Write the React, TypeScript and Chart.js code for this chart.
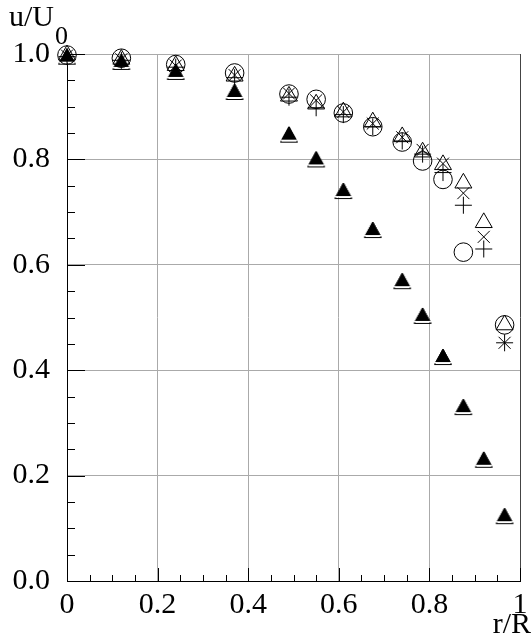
import React, { useEffect, useRef } from "react";
import { Chart, registerables } from "chart.js";

Chart.register(...registerables);

// radial positions r/R
const rPositions = [0, 0.12, 0.24, 0.37, 0.49, 0.55, 0.61, 0.675, 0.74, 0.785, 0.83, 0.875, 0.92, 0.966];

// u/U0 series
const circleSeries = [0.998, 0.992, 0.98, 0.964, 0.924, 0.914, 0.888, 0.862, 0.833, 0.797, 0.762, 0.624, null, 0.486];
const triangleSeries = [0.998, 0.99, 0.978, 0.958, 0.92, 0.905, 0.89, 0.871, 0.843, 0.814, 0.79, 0.755, 0.68, 0.486];
const crossRotSeries = [0.997, 0.99, 0.978, 0.96, 0.925, 0.912, 0.89, 0.868, 0.842, 0.818, 0.792, 0.736, 0.653, 0.452];
const crossSeries = [0.995, 0.988, 0.975, 0.955, 0.918, 0.898, 0.885, 0.862, 0.835, 0.81, 0.775, 0.713, 0.63, 0.452];
const filledTriangleSeries = [0.995, 0.985, 0.966, 0.928, 0.847, 0.8, 0.74, 0.666, 0.569, 0.503, 0.425, 0.33, 0.23, 0.123];

const xTickLabels = ["0", "0.2", "0.4", "0.6", "0.8", "1"];
const yTickLabels = ["0.0", "0.2", "0.4", "0.6", "0.8", "1.0"];
const xTitle = "r/R";
const yTitleMain = "u/U";
const yTitleSub = "0";

const FONT = '"Liberation Serif", "Times New Roman", serif';

function toPoints(ys: (number | null)[]) {
  return rPositions.map((x, i) => ({ x, y: ys[i] }));
}

function makeFilledTriangle(): HTMLCanvasElement {
  const c = document.createElement("canvas");
  c.width = 22;
  c.height = 22;
  const ctx = c.getContext("2d")!;
  ctx.strokeStyle = "#000";
  ctx.lineWidth = 1;
  ctx.beginPath();
  ctx.moveTo(11, 3);
  ctx.lineTo(19.5, 18.5);
  ctx.lineTo(2.5, 18.5);
  ctx.closePath();
  ctx.stroke();
  ctx.fillStyle = "#000";
  ctx.beginPath();
  ctx.moveTo(11, 3);
  ctx.lineTo(18.1, 16);
  ctx.lineTo(3.9, 16);
  ctx.closePath();
  ctx.fill();
  ctx.stroke();
  ctx.fillStyle = "#fff";
  ctx.fillRect(3, 16, 16, 1.2);
  return c;
}

const minorTicksPlugin = {
  id: "minorTicks",
  beforeDatasetsDraw(chart: any) {
    const { ctx, chartArea, scales } = chart;
    const xs = scales.x;
    const ys = scales.y;
    ctx.save();
    ctx.strokeStyle = "#000";
    ctx.lineWidth = 1;
    for (let i = 1; i <= 20; i++) {
      const v = i / 20;
      const major = i % 4 === 0;
      const py = Math.round(ys.getPixelForValue(v)) + 0.5;
      ctx.beginPath();
      ctx.moveTo(chartArea.left, py);
      ctx.lineTo(chartArea.left + (major ? 18 : 8), py);
      ctx.stroke();
      const px = Math.round(xs.getPixelForValue(v)) + 0.5;
      ctx.beginPath();
      ctx.moveTo(px, chartArea.bottom);
      ctx.lineTo(px, chartArea.bottom - (major ? 13 : 6));
      ctx.stroke();
    }
    ctx.restore();
  },
  afterDraw(chart: any) {
    const { ctx } = chart;
    ctx.save();
    ctx.fillStyle = "#000";
    ctx.textBaseline = "alphabetic";
    ctx.textAlign = "left";
    ctx.font = `30px ${FONT}`;
    ctx.fillText(yTitleMain, 9, 26);
    const w = ctx.measureText(yTitleMain).width;
    ctx.font = `26px ${FONT}`;
    ctx.fillText(yTitleSub, 9 + w + 1, 44);
    ctx.font = `30px ${FONT}`;
    ctx.textAlign = "right";
    ctx.fillText(xTitle, 531, 633);
    ctx.restore();
  },
};

export default function App() {
  const ref = useRef<HTMLCanvasElement | null>(null);
  useEffect(() => {
    document.body.style.margin = "0";
    const canvas = ref.current!;
    const filledTri = makeFilledTriangle();
    const common = {
      showLine: false,
      clip: false as any,
      pointBorderColor: "#000",
      pointBorderWidth: 1,
      pointBackgroundColor: "rgba(0,0,0,0)",
    };
    const chart = new Chart(canvas, {
      type: "scatter",
      data: {
        datasets: [
          { ...common, label: "circle", data: toPoints(circleSeries), pointStyle: "circle", pointRadius: 9.3 },
          { ...common, label: "triangle", data: toPoints(triangleSeries), pointStyle: "triangle", pointRadius: 9.8 },
          { ...common, label: "crossRot", data: toPoints(crossRotSeries), pointStyle: "crossRot", pointRadius: 8.5 },
          { ...common, label: "cross", data: toPoints(crossSeries), pointStyle: "cross", pointRadius: 8.5 },
          { ...common, label: "filled", data: toPoints(filledTriangleSeries), pointStyle: filledTri as any, pointRadius: 10 },
        ] as any,
      },
      options: {
        animation: false,
        responsive: false,
        devicePixelRatio: 1,
        events: [],
        layout: { padding: { top: 54, right: 7, left: 0, bottom: 0 } },
        plugins: { legend: { display: false }, tooltip: { enabled: false }, title: { display: false } },
        scales: {
          x: {
            type: "linear",
            min: 0,
            max: 1,
            afterFit: (s: any) => {
              s.height = 60;
              s.paddingLeft = 0;
              s.paddingRight = 0;
            },
            border: { color: "#000", width: 1 },
            grid: {
              drawTicks: false,
              color: (c: any) => (c.tick && Math.abs(c.tick.value - 1) < 1e-6 ? "#444" : "#aaa"),
            },
            ticks: {
              stepSize: 0.2,
              padding: 6,
              color: "#000",
              maxRotation: 0,
              autoSkip: false,
              font: { family: FONT, size: 30 },
              callback: (_v: any, i: number) => xTickLabels[i],
            },
          },
          y: {
            type: "linear",
            min: 0,
            max: 1,
            afterFit: (s: any) => {
              s.width = 67;
              s.paddingTop = 0;
              s.paddingBottom = 0;
            },
            border: { color: "#000", width: 1 },
            grid: { drawTicks: false, color: "#aaa" },
            ticks: {
              stepSize: 0.2,
              padding: 17,
              color: "#000",
              autoSkip: false,
              font: { family: FONT, size: 30 },
              callback: (_v: any, i: number) => yTickLabels[i],
            },
          },
        },
      },
      plugins: [minorTicksPlugin],
    } as any);
    return () => chart.destroy();
  }, []);
  return (
    <div style={{ position: "absolute", left: 0, top: 0 }}>
      <canvas ref={ref} width={531} height={641} style={{ display: "block", width: 531, height: 641 }} />
    </div>
  );
}
